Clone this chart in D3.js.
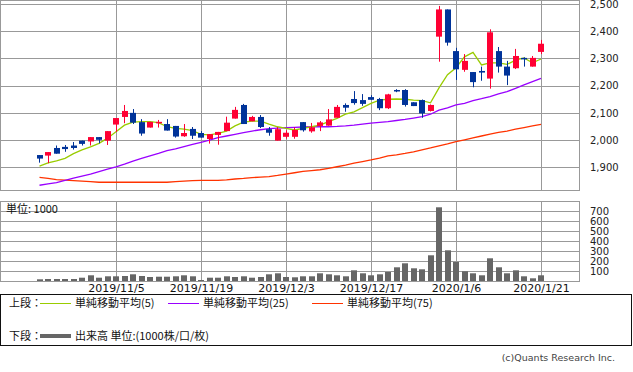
<!DOCTYPE html>
<html><head><meta charset="utf-8">
<script src="https://cdn.jsdelivr.net/npm/d3@7/dist/d3.min.js"></script>
<style>
html,body{margin:0;padding:0;background:#fff;}
svg{display:block;}
</style></head>
<body>
<svg id="chart" width="633" height="372"></svg>
<script>
const dates = ["10/21","10/23","10/24","10/25","10/28","10/29","10/30","10/31","11/1","11/5",
 "11/6","11/7","11/8","11/11","11/12","11/13","11/14","11/15","11/18","11/19",
 "11/20","11/21","11/22","11/25","11/26","11/27","11/28","11/29","12/2","12/3",
 "12/4","12/5","12/6","12/9","12/10","12/11","12/12","12/13","12/16","12/17",
 "12/18","12/19","12/20","12/23","12/24","12/25","12/26","12/27","12/30","1/6",
 "1/7","1/8","1/9","1/10","1/14","1/15","1/16","1/17","1/20","1/21"];
const openP  = [1945,1943,1971,1975,1980,1998,1995,2011,1998,2057,2085,2100,2066,2046,2062,2059,2052,2014,2041,2026,
 2004,2019,2033,2079,2129,2069,2085,2040,1998,2012,2012,2066,2032,2052,2053,2082,2129,2151,2147,2158,
 2151,2117,2184,2184,2139,2147,2107,2380,2480,2327,2258,2250,2254,2226,2327,2270,2264,2302,2270,2324];
const highP  = [1945,1956,1980,1982,1993,1998,2011,2011,2033,2081,2129,2114,2077,2067,2074,2077,2052,2059,2048,2033,
 2022,2030,2086,2122,2133,2089,2092,2048,2048,2036,2047,2066,2063,2070,2114,2129,2135,2180,2169,2165,
 2155,2170,2187,2187,2139,2149,2131,2493,2480,2339,2316,2250,2270,2407,2342,2291,2335,2304,2309,2368];
const lowP   = [1917,1915,1950,1957,1965,1980,1980,1988,1982,2030,2062,2059,2016,2046,2046,2035,2009,2012,2004,2009,
 1987,1983,2033,2079,2059,2069,2044,2016,1998,2005,2005,2031,2027,2033,2053,2082,2104,2130,2126,2148,
 2110,2114,2176,2123,2125,2082,2105,2288,2347,2221,2251,2194,2218,2189,2248,2202,2261,2270,2270,2316];
const closeP = [1932,1956,1950,1967,1971,1986,2011,2001,2033,2081,2107,2064,2024,2067,2067,2035,2013,2026,2016,2009,
 2022,2030,2064,2111,2059,2085,2048,2027,2040,2027,2037,2036,2047,2065,2076,2122,2119,2136,2133,2148,
 2117,2168,2179,2129,2125,2098,2129,2480,2358,2260,2291,2213,2248,2396,2270,2237,2309,2297,2302,2354];
const volume = [17,20,20,20,20,33,57,33,47,47,50,67,50,40,43,43,47,57,47,10,
 33,33,47,40,47,33,40,67,77,40,37,47,47,77,67,57,47,107,77,57,
 67,90,137,177,127,117,257,737,307,190,97,77,57,227,137,77,107,47,27,57];
const ma5  = [1904,1916,1924,1933,1950,1964,1975,1988,2007,2031,2055,2066,2068,2068,2064,2049,2043,2040,2035,2021,
 2019,2025,2033,2052,2066,2070,2070,2059,2049,2043,2037,2043,2049,2055,2068,2080,2095,2104,2119,2135,
 2147,2150,2151,2150,2147,2145,2137,2192,2240,2266,2306,2322,2276,2284,2284,2278,2294,2302,2284,2298];
const ma25 = [1834,1839,1844,1852,1860,1868,1875,1884,1893,1902,1912,1923,1933,1942,1951,1961,1968,1976,1984,1992,
 2000,2009,2015,2021,2027,2033,2038,2042,2044,2046,2047,2048,2049,2049,2049,2050,2052,2055,2059,2062,
 2065,2068,2072,2076,2081,2086,2095,2110,2118,2129,2135,2145,2152,2160,2170,2178,2190,2203,2215,2227];
const ma75 = [1863,1859,1855,1853,1851,1849,1847,1845,1845,1845,1845,1845,1845,1845,1845,1845,1847,1849,1851,1852,
 1852,1852,1854,1857,1859,1862,1864,1866,1870,1875,1880,1885,1888,1891,1896,1902,1908,1915,1921,1927,
 1934,1942,1946,1951,1957,1964,1971,1979,1986,1994,2001,2008,2015,2022,2028,2033,2040,2046,2052,2058];
const priceTicks = [1900,2000,2100,2200,2300,2400,2500];
const volTicks = [100,200,300,400,500,600,700];
const gridDates = ["11/5","11/19","12/3","12/17","1/6","1/21"];
const gridLabels = ["2019/11/5","2019/11/19","2019/12/3","2019/12/17","2020/1/6","2020/1/21"];

const W = 633, H = 372;
const svg = d3.select("#chart");
const plotL = 0, plotR = 579;
const pTop = 0, pBot = 190;
const vTop = 201, vBot = 281;

const x = d3.scalePoint().domain(dates).range([39.5, 541]);
const yP = d3.scaleLinear().domain([1900, 2500]).range([167.3, 4]);
const yV = d3.scaleLinear().domain([0, 800]).range([vBot, vTop]);
const px = v => Math.round(v) + 0.5;

const gridC = "#999999";
const jp = "'Noto Sans CJK JP', 'Noto Sans', sans-serif";
const lat = "'DejaVu Sans', sans-serif";

// ---- price panel grid
const gp = svg.append("g");
gp.selectAll("line.h").data(priceTicks).join("line")
  .attr("x1", plotL).attr("x2", plotR)
  .attr("y1", d => px(yP(d))).attr("y2", d => px(yP(d)))
  .attr("stroke", gridC).attr("stroke-width", 1);
gp.selectAll("line.v").data(gridDates).join("line")
  .attr("x1", d => px(x(d))).attr("x2", d => px(x(d)))
  .attr("y1", pTop).attr("y2", pBot)
  .attr("stroke", gridC).attr("stroke-width", 1);
gp.append("rect").attr("x", plotL + 0.5).attr("y", pTop + 0.5)
  .attr("width", plotR - plotL).attr("height", pBot - pTop)
  .attr("fill", "none").attr("stroke", gridC);

// ---- volume panel grid
const gv = svg.append("g");
gv.selectAll("line.h").data(volTicks).join("line")
  .attr("x1", plotL).attr("x2", plotR)
  .attr("y1", d => px(yV(d))).attr("y2", d => px(yV(d)))
  .attr("stroke", gridC);
gv.selectAll("line.v").data(gridDates).join("line")
  .attr("x1", d => px(x(d))).attr("x2", d => px(x(d)))
  .attr("y1", vTop).attr("y2", vBot)
  .attr("stroke", gridC);
gv.append("rect").attr("x", plotL + 0.5).attr("y", vTop + 0.5)
  .attr("width", plotR - plotL).attr("height", vBot - vTop)
  .attr("fill", "none").attr("stroke", gridC);

// ---- moving averages
const line = arr => d3.line().x((d, i) => x(dates[i])).y(d => yP(d))(arr);
[[ma75, "#ff3300"], [ma25, "#9900ff"], [ma5, "#99cc00"]].forEach(([arr, c]) => {
  svg.append("path").attr("d", line(arr)).attr("fill", "none")
    .attr("stroke", c).attr("stroke-width", 1.3);
});

// ---- candles
const cw = 6;
const candles = svg.append("g").selectAll("g").data(dates).join("g");
candles.append("line")
  .attr("x1", d => px(x(d) - 0.5)).attr("x2", d => px(x(d) - 0.5))
  .attr("y1", (d, i) => yP(highP[i])).attr("y2", (d, i) => yP(lowP[i]))
  .attr("stroke", (d, i) => closeP[i] >= openP[i] ? "#ff0033" : "#003399");
candles.append("rect")
  .attr("x", d => Math.round(x(d) - cw / 2))
  .attr("width", cw)
  .attr("y", (d, i) => yP(Math.max(openP[i], closeP[i])))
  .attr("height", (d, i) => Math.max(1.5, Math.abs(yP(openP[i]) - yP(closeP[i]))))
  .attr("fill", (d, i) => closeP[i] >= openP[i] ? "#ff0033" : "#003399");

// ---- volume bars
svg.append("g").selectAll("rect").data(dates).join("rect")
  .attr("x", d => Math.round(x(d) - cw / 2))
  .attr("width", cw)
  .attr("y", (d, i) => yV(volume[i]))
  .attr("height", (d, i) => yV(0) - yV(volume[i]))
  .attr("fill", "#666666");

// ---- axes
const axP = svg.append("g").attr("transform", "translate(590,0)")
  .call(d3.axisRight(yP).tickValues(priceTicks).tickFormat(d3.format(",")).tickSize(0).tickPadding(0));
axP.select(".domain").remove();
axP.selectAll("text").attr("font-family", lat).attr("font-size", 10).attr("fill", "#222");

const axV = svg.append("g").attr("transform", "translate(590,0)")
  .call(d3.axisRight(yV).tickValues(volTicks).tickSize(0).tickPadding(0));
axV.select(".domain").remove();
axV.selectAll("text").attr("font-family", lat).attr("font-size", 10).attr("fill", "#222");

const axX = svg.append("g").attr("transform", `translate(0,${vBot})`)
  .call(d3.axisBottom(x).tickValues(gridDates)
    .tickFormat(d => gridLabels[gridDates.indexOf(d)]).tickSize(0).tickPadding(3));
axX.select(".domain").remove();
axX.selectAll("text").attr("font-family", lat).attr("font-size", 11).attr("fill", "#111");

svg.append("text").attr("x", 6).attr("y", 213).attr("font-family", jp)
  .attr("font-size", 11).attr("fill", "#111").text("単位: 1000");

// ---- legend
svg.append("rect").attr("x", 0.5).attr("y", 294.5).attr("width", 631).attr("height", 51)
  .attr("fill", "none").attr("stroke", "#111");
const legTop = [["#99cc00", 40, "単純移動平均(5)"], ["#9900ff", 168, "単純移動平均(25)"], ["#ff3300", 312, "単純移動平均(75)"]];
svg.append("text").attr("x", 9).attr("y", 307).attr("font-family", jp).attr("font-size", 11)
  .attr("fill", "#111").text("上段：");
legTop.forEach(([c, lx, t]) => {
  svg.append("line").attr("x1", lx).attr("x2", lx + 31).attr("y1", 303.5).attr("y2", 303.5)
    .attr("stroke", c).attr("stroke-width", 1);
  svg.append("text").attr("x", lx + 35).attr("y", 307).attr("font-family", jp).attr("font-size", 11)
    .attr("fill", "#111").text(t);
});
svg.append("text").attr("x", 9).attr("y", 340).attr("font-family", jp).attr("font-size", 11)
  .attr("fill", "#111").text("下段：");
svg.append("line").attr("x1", 40).attr("x2", 71).attr("y1", 336).attr("y2", 336)
  .attr("stroke", "#666666").attr("stroke-width", 4);
svg.append("text").attr("x", 75).attr("y", 340).attr("font-family", jp).attr("font-size", 11)
  .attr("fill", "#111").text("出来高 単位:(1000株/口/枚)");

svg.append("text").attr("x", 615).attr("y", 361).attr("text-anchor", "end")
  .attr("font-family", lat).attr("font-size", 9.5).attr("fill", "#444")
  .text("(c)Quants Research Inc.");
</script>
</body></html>
